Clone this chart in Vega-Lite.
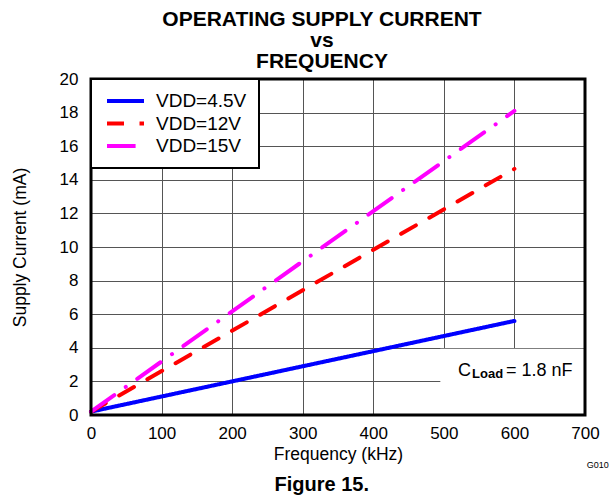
{
  "$schema": "https://vega.github.io/schema/vega-lite/v6.json",
  "width": 494,
  "height": 336,
  "autosize": {"type": "none"},
  "padding": {"left": 91, "top": 79, "right": 27, "bottom": 82},
  "background": "white",
  "title": {
    "text": ["OPERATING SUPPLY CURRENT", "vs", "FREQUENCY"],
    "font": "Liberation Sans",
    "fontSize": 21,
    "fontWeight": "bold",
    "lineHeight": 21,
    "anchor": "middle",
    "dx": -16,
    "offset": -2,
    "color": "black"
  },
  "config": {
    "view": {"stroke": null},
    "font": "Liberation Sans",
    "legend": {
      "orient": "top-left",
      "offset": 0,
      "padding": 12,
      "fillColor": "white",
      "strokeColor": "black",
      "strokeWidth": 2,
      "labelFont": "Liberation Sans",
      "labelFontSize": 19,
      "labelColor": "black",
      "labelOffset": 10,
      "symbolOffset": 2,
      "symbolType": "stroke",
      "symbolSize": 1369,
      "symbolStrokeWidth": 4,
      "clipHeight": 20,
      "rowPadding": 2.5
    }
  },
  "resolve": {"axis": {"x": "independent", "y": "independent"}},
  "datasets": {
    "curves": [
      {"series": "VDD=4.5V", "freq": 0, "current": 0.2},
      {"series": "VDD=4.5V", "freq": 600, "current": 5.6},
      {"series": "VDD=12V", "freq": 0, "current": 0.2},
      {"series": "VDD=12V", "freq": 600, "current": 14.65},
      {"series": "VDD=15V", "freq": 0, "current": 0.2},
      {"series": "VDD=15V", "freq": 600, "current": 18.1}
    ],
    "box": [{"x": 495, "x2": 700, "y": 0, "y2": 3.94}],
    "frame": [{"x": 0, "x2": 700, "y": 0, "y2": 20}],
    "fig": [{"label": "Figure 15.", "x": 327, "y": -4.52}],
    "code": [{"label": "G010", "x": 718, "y": -3.15}],
    "cmain": [
      {"label": "C", "x": 520, "y": 2.32},
      {"label": "= 1.8 nF", "x": 588, "y": 2.32}
    ],
    "csub": [{"label": "Load", "x": 540, "y": 2.2}]
  },
  "layer": [
    {
      "data": {"name": "box"},
      "mark": {"type": "rect", "fill": "white", "stroke": null},
      "encoding": {
        "x": {"field": "x", "type": "quantitative", "scale": {"domain": [0, 700], "nice": false, "zero": false}, "axis": null},
        "x2": {"field": "x2"},
        "y": {"field": "y", "type": "quantitative", "scale": {"domain": [0, 20], "nice": false, "zero": false}, "axis": null},
        "y2": {"field": "y2"}
      }
    },
    {
      "data": {"name": "curves"},
      "mark": {"type": "line", "strokeWidth": 4, "strokeCap": "round"},
      "encoding": {
        "x": {
          "field": "freq", "type": "quantitative",
          "scale": {"domain": [0, 700], "nice": false, "zero": false},
          "axis": {
            "orient": "bottom",
            "values": [0, 100, 200, 300, 400, 500, 600, 700],
            "grid": true, "gridColor": "#555555", "gridWidth": 1,
            "domain": false,
            "ticks": false,
            "labelFlush": false,
            "labelFont": "Liberation Sans", "labelFontSize": 17, "labelColor": "black", "labelPadding": 10,
            "title": "Frequency (kHz)", "titleFont": "Liberation Sans", "titleFontSize": 17.5, "titleFontWeight": "normal", "titleColor": "black", "titlePadding": 4
          }
        },
        "y": {
          "field": "current", "type": "quantitative",
          "scale": {"domain": [0, 20], "nice": false, "zero": false},
          "axis": {
            "orient": "left",
            "values": [0, 2, 4, 6, 8, 10, 12, 14, 16, 18, 20],
            "grid": true, "gridColor": "#555555", "gridWidth": 1,
            "domain": false,
            "ticks": false,
            "labelFlush": false,
            "labelFont": "Liberation Sans", "labelFontSize": 17, "labelColor": "black", "labelPadding": 13,
            "title": "Supply Current (mA)", "titleFont": "Liberation Sans", "titleFontSize": 17.5, "titleFontWeight": "normal", "titleColor": "black", "titlePadding": 30
          }
        },
        "color": {
          "field": "series", "type": "nominal", "title": null,
          "scale": {"domain": ["VDD=4.5V", "VDD=12V", "VDD=15V"], "range": ["#0000FF", "#FF0000", "#FF00FF"]}
        },
        "strokeDash": {
          "field": "series", "type": "nominal", "title": null,
          "scale": {"domain": ["VDD=4.5V", "VDD=12V", "VDD=15V"], "range": [[1, 0], [17, 15.5], [28.6, 14, 0.1, 14]]}
        }
      }
    },
    {
      "data": {"name": "frame"},
      "mark": {"type": "rect", "fill": null, "fillOpacity": 0, "stroke": "black", "strokeWidth": 3},
      "encoding": {
        "x": {"field": "x", "type": "quantitative", "scale": {"domain": [0, 700], "nice": false, "zero": false}, "axis": null},
        "x2": {"field": "x2"},
        "y": {"field": "y", "type": "quantitative", "scale": {"domain": [0, 20], "nice": false, "zero": false}, "axis": null},
        "y2": {"field": "y2"}
      }
    },
    {
      "data": {"name": "fig"},
      "mark": {"type": "text", "align": "center", "baseline": "alphabetic", "color": "black", "font": "Liberation Sans", "fontSize": 20, "fontWeight": "bold"},
      "encoding": {
        "x": {"field": "x", "type": "quantitative", "scale": {"domain": [0, 700], "nice": false, "zero": false}, "axis": null},
        "y": {"field": "y", "type": "quantitative", "scale": {"domain": [0, 20], "nice": false, "zero": false}, "axis": null},
        "text": {"field": "label"}
      }
    },
    {
      "data": {"name": "code"},
      "mark": {"type": "text", "align": "center", "baseline": "alphabetic", "color": "black", "font": "Liberation Sans", "fontSize": 9},
      "encoding": {
        "x": {"field": "x", "type": "quantitative", "scale": {"domain": [0, 700], "nice": false, "zero": false}, "axis": null},
        "y": {"field": "y", "type": "quantitative", "scale": {"domain": [0, 20], "nice": false, "zero": false}, "axis": null},
        "text": {"field": "label"}
      }
    },
    {
      "data": {"name": "cmain"},
      "mark": {"type": "text", "align": "left", "baseline": "alphabetic", "color": "black", "font": "Liberation Sans", "fontSize": 18},
      "encoding": {
        "x": {"field": "x", "type": "quantitative", "scale": {"domain": [0, 700], "nice": false, "zero": false}, "axis": null},
        "y": {"field": "y", "type": "quantitative", "scale": {"domain": [0, 20], "nice": false, "zero": false}, "axis": null},
        "text": {"field": "label"}
      }
    },
    {
      "data": {"name": "csub"},
      "mark": {"type": "text", "align": "left", "baseline": "alphabetic", "color": "black", "font": "Liberation Sans", "fontSize": 13, "fontWeight": "bold"},
      "encoding": {
        "x": {"field": "x", "type": "quantitative", "scale": {"domain": [0, 700], "nice": false, "zero": false}, "axis": null},
        "y": {"field": "y", "type": "quantitative", "scale": {"domain": [0, 20], "nice": false, "zero": false}, "axis": null},
        "text": {"field": "label"}
      }
    }
  ]
}
